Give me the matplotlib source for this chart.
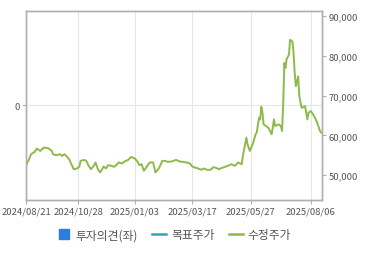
import matplotlib
matplotlib.use("Agg")
import matplotlib.pyplot as plt
from matplotlib.lines import Line2D
from matplotlib.ticker import FuncFormatter

plt.rcParams['font.family'] = ['Noto Sans CJK KR', 'DejaVu Sans']

# trading-session index and adjusted price (수정주가)
sessions = [0, 2, 4, 7, 9, 12, 15, 19, 22, 23, 26, 29, 31, 33, 35, 37, 39, 41, 44, 46,
            47, 50, 52, 54, 56, 58, 60, 62, 64, 65, 67, 69, 71, 74, 76, 78, 80, 83, 86, 88,
            91, 94, 96, 98, 100, 102, 104, 107, 110, 112, 115, 118, 120, 123, 126, 130, 133,
            136, 139, 142, 144, 146, 149, 152, 154, 157, 160, 162, 164, 167, 171, 175, 178,
            181, 184, 187, 188, 191, 192, 194, 197, 199, 200, 202, 203, 204, 205, 206, 208,
            210, 213, 215, 216, 219, 221, 222, 223, 224, 225, 226, 228, 229, 231, 232, 233,
            234, 236, 237, 239, 242, 244, 245, 247, 249, 252, 255, 256]
price = [52750, 53830, 55250, 55830, 56680, 56080, 56930, 56750, 56080, 55250, 55000, 55250,
         54830, 55250, 54680, 54000, 52750, 51500, 51680, 52180, 53580, 53830, 53580, 52330,
         51500, 52180, 53180, 51500, 50680, 51080, 52180, 51680, 52500, 52330, 52080, 52500,
         53180, 52930, 53580, 53750, 54580, 54180, 53580, 52500, 52750, 51080, 51930, 53180,
         53180, 50680, 51680, 53580, 53580, 53330, 53430, 53830, 53430, 53330, 53180, 52930,
         52180, 51930, 51680, 51330, 51680, 51330, 51330, 51930, 51930, 51500, 51930, 52330,
         52750, 52330, 53180, 52750, 54830, 59430, 57750, 56080, 58180, 60250, 60680, 64430,
         64000, 67180, 65680, 62750, 62330, 61930, 60250, 64000, 62330, 62750, 62330, 61080,
         67750, 78180, 76930, 79180, 80250, 84000, 83580, 80680, 75680, 72330, 74830, 69830,
         66930, 67330, 64000, 65680, 66080, 65250, 63580, 61080, 60680]

tick_sessions = [0, 45, 94, 144, 195, 247]
tick_labels = ["2024/08/21", "2024/10/28", "2025/01/03", "2025/03/17", "2025/05/27", "2025/08/06"]
price_ticks = [50000, 60000, 70000, 80000, 90000]
legend_labels = ["투자의견(좌)", "목표주가", "수정주가"]

GREEN = "#8dba4a"
FRAME = "#b0b0b0"
GRID = "#e6e6e6"
TXT = "#555555"

fig = plt.figure(figsize=(3.7, 2.55), dpi=100)
ax = fig.add_axes([0.0716, 0.2118, 0.798, 0.7412])
ax2 = ax.twinx()

ax.set_xlim(0, 256.5)
ax.set_ylim(-1, 1)
ax.set_yticks([0])
ax.set_yticklabels(["0"])
ax.set_xticks(tick_sessions)
ax.set_xticklabels(tick_labels)
ax.grid(True, color=GRID, lw=0.8)
ax.set_axisbelow(True)

ax2.plot(sessions, price, color=GREEN, lw=1.4, solid_joinstyle="round")
ax2.set_ylim(43750, 91250)
ax2.set_yticks(price_ticks)
ax2.yaxis.set_major_formatter(FuncFormatter(lambda v, p: f"{int(v):,}"))

for a in (ax, ax2):
    for s in a.spines.values():
        s.set_color(FRAME)
        s.set_linewidth(1.0)
    a.tick_params(colors=FRAME, labelcolor=TXT, labelsize=6.8, length=3, width=0.8, pad=2)

fig.legend(handles=[Line2D([], [], marker="s", ls="none", color="#2b7de0", ms=6.5),
                    Line2D([], [], color="#2aa8b8", lw=1.8),
                    Line2D([], [], color=GREEN, lw=1.8)],
           labels=legend_labels, loc="center", bbox_to_anchor=(0.47, 0.075), ncol=3,
           frameon=False, fontsize=8.5, handlelength=1.2, handletextpad=0.4,
           columnspacing=1.2, labelcolor=TXT)

fig.savefig("out.png", dpi=100)
